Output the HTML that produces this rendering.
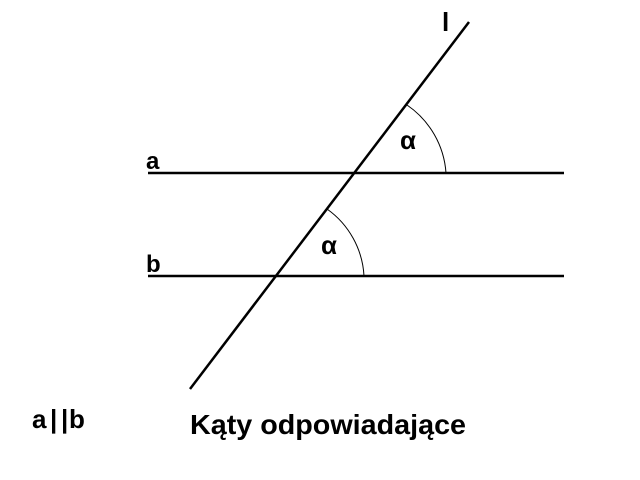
<!DOCTYPE html>
<html><head><meta charset="utf-8"><style>
html,body{margin:0;padding:0;background:#fff;width:640px;height:480px;overflow:hidden}
svg{display:block}
text{font-family:"Liberation Sans",sans-serif;font-weight:bold;fill:#000}
</style></head><body>
<svg width="640" height="480" viewBox="0 0 640 480">
<line x1="148" y1="173" x2="564" y2="173" stroke="#000" stroke-width="2.5"/>
<line x1="148" y1="276" x2="564" y2="276" stroke="#000" stroke-width="2.5"/>
<line x1="190" y1="389" x2="469" y2="22" stroke="#000" stroke-width="2.5"/>
<path d="M407,105 A90,90 0 0 1 446,173" fill="none" stroke="#000" stroke-width="1"/>
<path d="M327,209 A88,88 0 0 1 364,276" fill="none" stroke="#000" stroke-width="1"/>
<text x="442" y="31" font-size="26">l</text>
<text x="146" y="169" font-size="24">a</text>
<text x="146" y="272" font-size="24">b</text>
<text x="400" y="149" font-size="26">α</text>
<text x="321" y="254" font-size="26">α</text>
<text y="428" font-size="26"><tspan x="32">a</tspan><tspan x="50">|</tspan><tspan x="61">|</tspan><tspan x="69">b</tspan></text>
<text x="190" y="434" font-size="28" textLength="276" lengthAdjust="spacingAndGlyphs">Kąty odpowiadające</text>
</svg>
</body></html>
